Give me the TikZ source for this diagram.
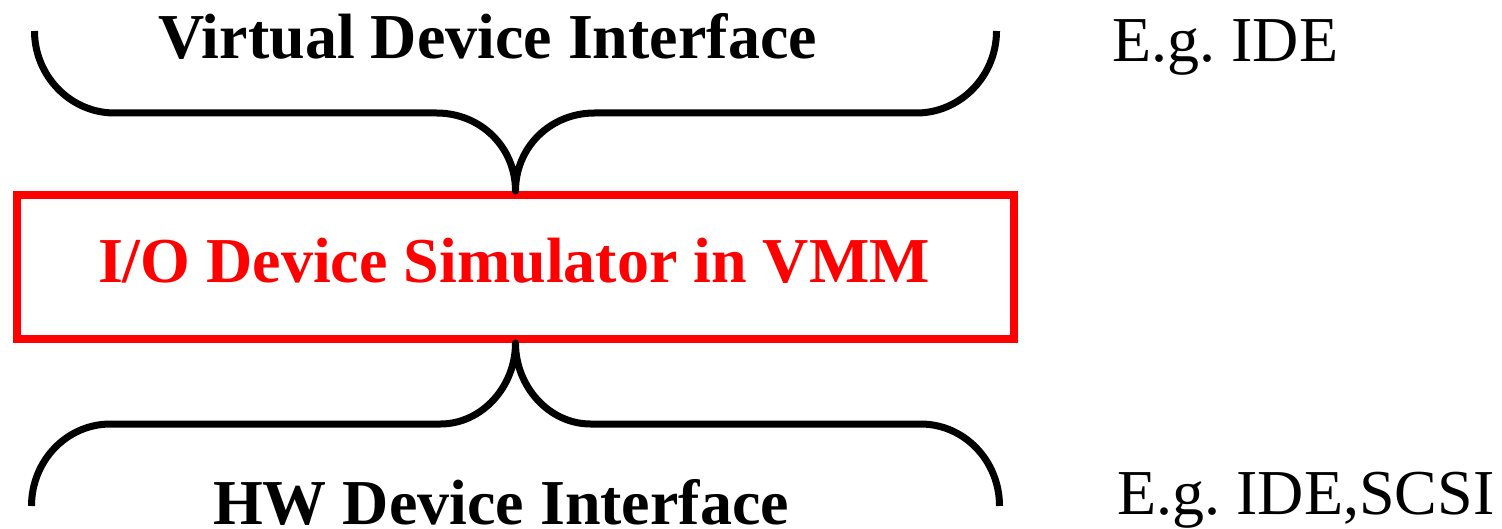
\documentclass[tikz,border=0pt]{standalone}
\usepackage{fontspec}
\setmainfont{Liberation Serif}
\usepackage{tikz}
\usetikzlibrary{positioning}

\begin{document}
\begin{tikzpicture}[
        x=0.5pt, y=-0.5pt,
        heading/.style={font=\fontsize{32}{38}\selectfont\bfseries, inner sep=0pt, anchor=base},
        note/.style={font=\fontsize{32}{38}\selectfont, inner sep=0pt, anchor=base west},
        vmm box/.style={rectangle, draw=red, line width=4pt, minimum width=498.5pt, minimum height=72pt, inner sep=0pt},
        brace/.style={draw, line width=3.5pt, line join=round}
    ]

        \useasboundingbox (0,0) rectangle (1502,529);

        % Simulator box
        \node[vmm box] (vmm) at (515.5,267) {};
        \node[heading, text=red] (vmm label) at (514,282) {I/O Device Simulator in VMM};

        % Interfaces
        \node[heading] (virtual) at (487.5,59) {Virtual Device Interface};
        \node[heading] (hw) at (501,524) {HW Device Interface};

        % Examples
        \node[note] (eg virtual) at (1112,62) {E.g.\ IDE};
        \node[note] (eg hw) at (1117,514) {E.g.\ IDE,SCSI};

        % Upper brace, tip on the box
        \draw[brace] (vmm.north) ++(-481,-160)
            .. controls +(0,45) and +(-44,0) .. ++(80,82) -- ++(322,0)
            .. controls +(44,0) and +(0,-44) .. ++(79,78)
            .. controls +(0,-44) and +(-44,0) .. ++(79,-78) -- ++(322,0)
            .. controls +(44,0) and +(0,45) .. ++(80,-82);

        % Lower brace, tip under the box
        \draw[brace] (vmm.south) ++(-484,163)
            .. controls +(0,-45) and +(-44,0) .. ++(79,-82) -- ++(330,0)
            .. controls +(41,0) and +(0,44) .. ++(75,-81)
            .. controls +(0,44) and +(-41,0) .. ++(75,81) -- ++(330,0)
            .. controls +(44,0) and +(0,-45) .. ++(79,82);

    \end{tikzpicture}
\end{document}
